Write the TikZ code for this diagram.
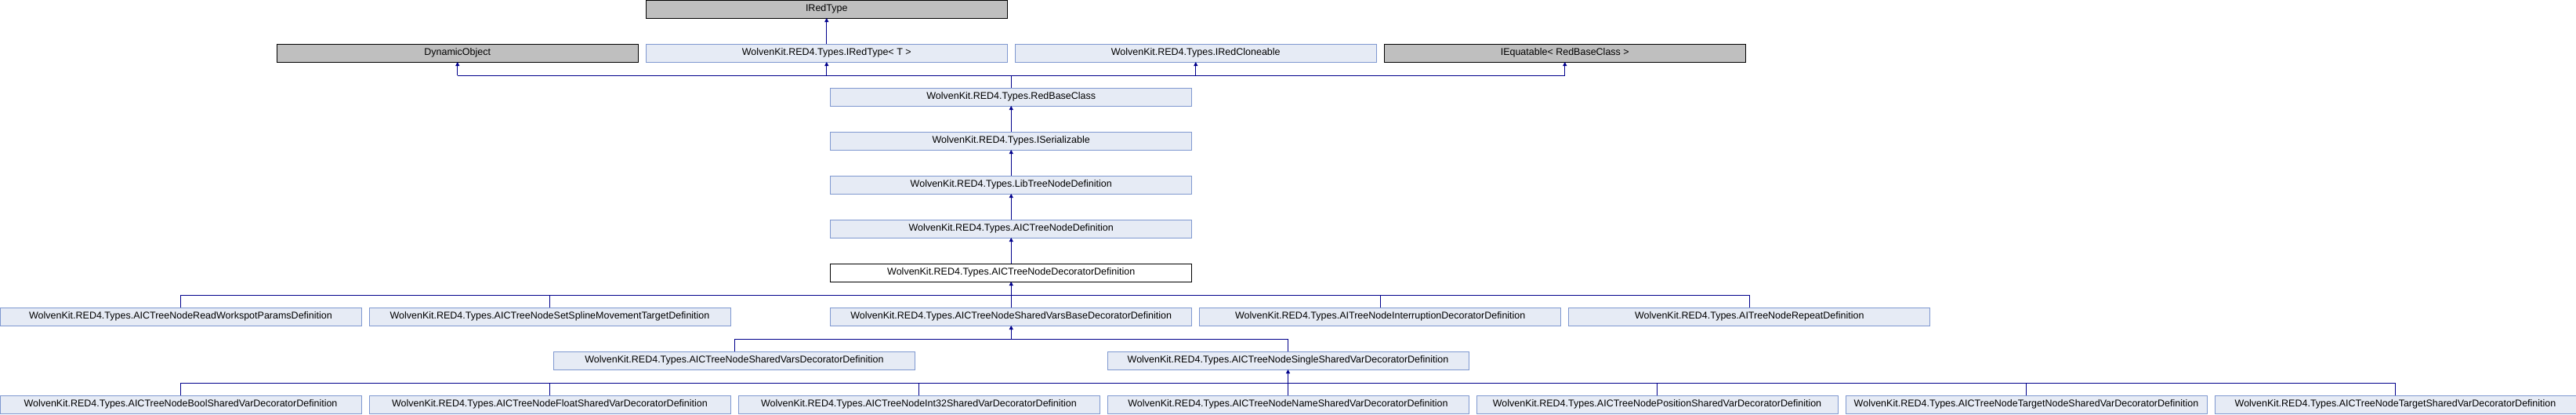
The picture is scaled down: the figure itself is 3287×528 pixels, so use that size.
\documentclass[tikz,border=0pt]{standalone}
\usepackage{fontspec}
\setmainfont{Liberation Sans}
\usetikzlibrary{arrows.meta}
\definecolor{boxfill}{HTML}{E6EBF5}
\definecolor{boxline}{HTML}{7F98D0}
\definecolor{grayfill}{HTML}{BFBFBF}
\definecolor{edgecol}{HTML}{00008B}
\tikzset{
  cls/.style={draw=boxline, fill=boxfill, line width=1pt, minimum width=461pt, minimum height=23pt,
    inner sep=0pt, outer sep=0pt, anchor=north west, font=\fontsize{12.5pt}{14pt}\selectfont, text=black},
  ext/.style={cls, draw=black, fill=grayfill},
  cur/.style={cls, draw=black, fill=white},
  edge/.style={draw=edgecol, line width=1pt},
  inh/.style={edge, -{Triangle[width=5pt,length=5pt]}},
}
\begin{document}
\begin{tikzpicture}[x=1pt,y=1pt]
\useasboundingbox (0,0) rectangle (3287,-528);
% row 0
\node[ext] (irt) at (1.75*471,0) {IRedType};
% row 1
\node[ext] (dyn) at (0.75*471,-56) {DynamicObject};
\node[cls] (irtt) at (1.75*471,-56) {WolvenKit.RED4.Types.IRedType< T >};
\node[cls] (clo) at (2.75*471,-56) {WolvenKit.RED4.Types.IRedCloneable};
\node[ext] (equ) at (3.75*471,-56) {IEquatable< RedBaseClass >};
% rows 2-6
\node[cls] (rbc) at (2.25*471,-112) {WolvenKit.RED4.Types.RedBaseClass};
\node[cls] (ser) at (2.25*471,-168) {WolvenKit.RED4.Types.ISerializable};
\node[cls] (lib) at (2.25*471,-224) {WolvenKit.RED4.Types.LibTreeNodeDefinition};
\node[cls] (aic) at (2.25*471,-280) {WolvenKit.RED4.Types.AICTreeNodeDefinition};
\node[cur] (dec) at (2.25*471,-336) {WolvenKit.RED4.Types.AICTreeNodeDecoratorDefinition};
% row 7
\node[cls] (r70) at (0,-392) {WolvenKit.RED4.Types.AICTreeNodeReadWorkspotParamsDefinition};
\node[cls] (r71) at (471,-392) {WolvenKit.RED4.Types.AICTreeNodeSetSplineMovementTargetDefinition};
\node[cls] (r72) at (2.25*471,-392) {WolvenKit.RED4.Types.AICTreeNodeSharedVarsBaseDecoratorDefinition};
\node[cls] (r73) at (3.25*471,-392) {WolvenKit.RED4.Types.AITreeNodeInterruptionDecoratorDefinition};
\node[cls] (r74) at (4.25*471,-392) {WolvenKit.RED4.Types.AITreeNodeRepeatDefinition};
% row 8
\node[cls] (r80) at (1.5*471,-448) {WolvenKit.RED4.Types.AICTreeNodeSharedVarsDecoratorDefinition};
\node[cls] (r81) at (3*471,-448) {WolvenKit.RED4.Types.AICTreeNodeSingleSharedVarDecoratorDefinition};
% row 9
\node[cls] (r90) at (0,-504) {WolvenKit.RED4.Types.AICTreeNodeBoolSharedVarDecoratorDefinition};
\node[cls] (r91) at (471,-504) {WolvenKit.RED4.Types.AICTreeNodeFloatSharedVarDecoratorDefinition};
\node[cls] (r92) at (2*471,-504) {WolvenKit.RED4.Types.AICTreeNodeInt32SharedVarDecoratorDefinition};
\node[cls] (r93) at (3*471,-504) {WolvenKit.RED4.Types.AICTreeNodeNameSharedVarDecoratorDefinition};
\node[cls] (r94) at (4*471,-504) {WolvenKit.RED4.Types.AICTreeNodePositionSharedVarDecoratorDefinition};
\node[cls] (r95) at (5*471,-504) {WolvenKit.RED4.Types.AICTreeNodeTargetNodeSharedVarDecoratorDefinition};
\node[cls] (r96) at (6*471,-504) {WolvenKit.RED4.Types.AICTreeNodeTargetSharedVarDecoratorDefinition};
% edges: row 1 -> row 0
\draw[inh] (irtt.north) -- (irt.south);
% RedBaseClass -> parents
\draw[edge] (rbc.north) -- ++(0,16) coordinate (bus1);
\draw[edge] (bus1 -| dyn.south) -- (bus1 -| equ.south);
\draw[inh] (bus1 -| dyn.south) -- (dyn.south);
\draw[inh] (bus1 -| irtt.south) -- (irtt.south);
\draw[inh] (bus1 -| clo.south) -- (clo.south);
\draw[inh] (bus1 -| equ.south) -- (equ.south);
% chain
\draw[inh] (ser.north) -- (rbc.south);
\draw[inh] (lib.north) -- (ser.south);
\draw[inh] (aic.north) -- (lib.south);
\draw[inh] (dec.north) -- (aic.south);
% row 7 -> decorator
\draw[edge] (r70.north) -- ++(0,16) coordinate (bus7) -| (r74.north);
\draw[edge] (r71.north) -- (r71.north |- bus7);
\draw[edge] (r72.north) -- (r72.north |- bus7);
\draw[edge] (r73.north) -- (r73.north |- bus7);
\draw[inh] (bus7 -| dec.south) -- (dec.south);
% row 8 -> shared vars base
\draw[edge] (r80.north) -- ++(0,16) coordinate (bus8) -| (r81.north);
\draw[inh] (bus8 -| r72.south) -- (r72.south);
% row 9 -> single shared var
\draw[edge] (r90.north) -- ++(0,16) coordinate (bus9) -| (r96.north);
\draw[edge] (r91.north) -- (r91.north |- bus9);
\draw[edge] (r92.north) -- (r92.north |- bus9);
\draw[edge] (r93.north) -- (r93.north |- bus9);
\draw[edge] (r94.north) -- (r94.north |- bus9);
\draw[edge] (r95.north) -- (r95.north |- bus9);
\draw[inh] (bus9 -| r81.south) -- (r81.south);
\end{tikzpicture}
\end{document}
